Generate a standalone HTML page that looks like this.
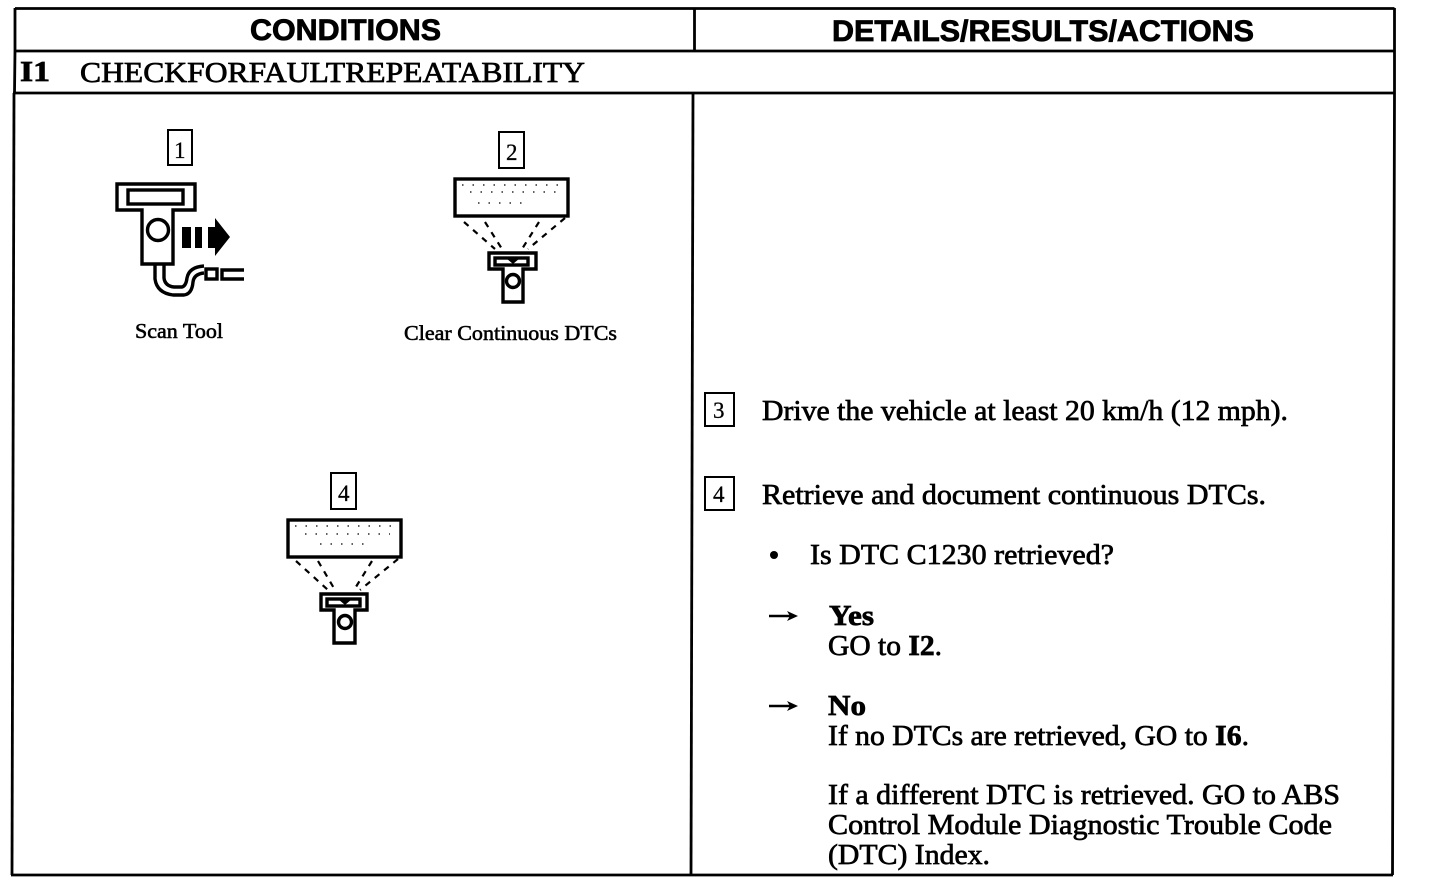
<!DOCTYPE html>
<html>
<head>
<meta charset="utf-8">
<style>
html,body{margin:0;padding:0;background:#fff;}
svg{display:block;}
text{font-family:"Liberation Serif",serif;fill:#000;stroke:#000;stroke-width:.7px;}
.h{font-family:"Liberation Sans",sans-serif;font-weight:700;font-size:30px;stroke-width:.8px;}
.b{font-size:29px;}
.bb{font-size:29px;font-weight:700;}
.c{font-size:21px;stroke-width:.55px;}
.n{font-size:23px;stroke-width:.3px;}
</style>
</head>
<body>
<svg width="1440" height="884" viewBox="0 0 1440 884" xmlns="http://www.w3.org/2000/svg">
<rect width="1440" height="884" fill="#fff"/>
<g fill="none" stroke="#000" stroke-width="2.800">
  <path d="M15 8.500H1394.500"/>
  <path d="M15 51H1394"/>
  <path d="M13 93H1394"/>
  <path d="M11 875H1393"/>
  <path d="M15 8V51L14.500 93"/>
  <path d="M14 93L12 875"/>
  <path d="M694.500 8V51"/>
  <path d="M693 93L691 875"/>
  <path d="M1394.500 8V93L1392.500 875"/>
</g>

<text class="h" x="250" y="40" textLength="191" lengthAdjust="spacingAndGlyphs">CONDITIONS</text>
<text class="h" x="832" y="41" textLength="422" lengthAdjust="spacingAndGlyphs">DETAILS/RESULTS/ACTIONS</text>
<text class="bb" x="20" y="81" textLength="30" lengthAdjust="spacingAndGlyphs">I1</text>
<text class="b" x="80" y="82" textLength="505" lengthAdjust="spacingAndGlyphs">CHECKFORFAULTREPEATABILITY</text>

<!-- number boxes -->
<g fill="#fff" stroke="#000" stroke-width="2">
  <rect x="168" y="130" width="24" height="35"/>
  <rect x="499" y="132" width="25" height="36"/>
  <rect x="331" y="473" width="25" height="36"/>
  <rect x="705" y="393" width="29" height="33"/>
  <rect x="705" y="477" width="29" height="33"/>
</g>
<text class="n" x="174" y="158">1</text>
<text class="n" x="506" y="160">2</text>
<text class="n" x="338" y="501">4</text>
<text class="n" x="713" y="418">3</text>
<text class="n" x="713" y="502">4</text>

<!-- Scan tool -->
<g fill="none" stroke="#000" stroke-width="3.400">
  <path d="M117 184H195V210H173V264H142V210H117Z"/>
  <rect x="128" y="190" width="55" height="14"/>
  <circle cx="158" cy="230" r="10.500"/>
  <path d="M155 265V279Q157 293 173 295H184Q192 294 193 282Q194 274 204 273"/>
  <path d="M164 265V278Q165 286 174 287H182Q186 286 187 278Q189 267 204 266"/>
  <rect x="206" y="269" width="11" height="10"/>
  <path d="M244 270H222V279H244"/>
</g>
<g fill="#000">
  <rect x="182" y="227" width="9" height="21"/>
  <rect x="195" y="227" width="7" height="21"/>
  <path d="M208 227H215V218L230 237L215 256V248H208Z"/>
</g>

<!-- Display 2 -->
<g fill="none" stroke="#000" stroke-width="3.400">
  <rect x="455" y="179" width="113" height="37"/>
  <path d="M489 253H536V269H523V302H503V269H489Z"/>
  <rect x="495" y="258" width="33" height="7"/>
  <circle cx="513" cy="281" r="6.500"/>
</g>
<g fill="none" stroke="#000" stroke-width="2.200" stroke-dasharray="6 6">
  <path d="M464 222L495 249"/>
  <path d="M485 222L502 249"/>
  <path d="M539 222L522 249"/>
  <path d="M565 218L528 249"/>
</g>
<path d="M506 258H520L513 264Z" fill="#000"/>
<g fill="none" stroke="#000" stroke-width="1.300" stroke-dasharray="1.500 9">
  <path d="M462 185H565"/>
  <path d="M470 192H560"/>
  <path d="M478 203H530"/>
</g>

<!-- Display 4 -->
<g fill="none" stroke="#000" stroke-width="3.400">
  <rect x="288" y="520" width="113" height="37"/>
  <path d="M321 594H367V610H355V643H334V610H321Z"/>
  <rect x="327" y="599" width="33" height="7"/>
  <circle cx="345" cy="622" r="6.500"/>
</g>
<g fill="none" stroke="#000" stroke-width="2.200" stroke-dasharray="6 6">
  <path d="M296 561L328 590"/>
  <path d="M318 561L335 590"/>
  <path d="M372 561L354 590"/>
  <path d="M398 559L360 590"/>
</g>
<path d="M338 599H352L345 605Z" fill="#000"/>
<g fill="none" stroke="#000" stroke-width="1.300" stroke-dasharray="1.500 9">
  <path d="M295 526H395"/>
  <path d="M305 534H390"/>
  <path d="M320 544H370"/>
</g>

<text class="c" x="135" y="338" textLength="88" lengthAdjust="spacingAndGlyphs">Scan Tool</text>
<text class="c" x="404" y="340" textLength="213" lengthAdjust="spacingAndGlyphs">Clear Continuous DTCs</text>

<!-- Right column -->
<text class="b" x="762" y="420" textLength="526" lengthAdjust="spacingAndGlyphs">Drive the vehicle at least 20 km/h (12 mph).</text>
<text class="b" x="762" y="504" textLength="504" lengthAdjust="spacingAndGlyphs">Retrieve and document continuous DTCs.</text>
<circle cx="774" cy="555" r="4" fill="#000"/>
<text class="b" x="810" y="564" textLength="304" lengthAdjust="spacingAndGlyphs">Is DTC C1230 retrieved?</text>

<g fill="none" stroke="#000" stroke-width="2.400">
  <path d="M769 616H794"/>
  <path d="M769 706H794"/>
</g>
<path d="M787 611L798 616L787 621L790 616Z" fill="#000"/>
<path d="M787 701L798 706L787 711L790 706Z" fill="#000"/>

<text class="bb" x="829" y="625" textLength="45" lengthAdjust="spacingAndGlyphs">Yes</text>
<text class="b" x="828" y="655" textLength="114" lengthAdjust="spacingAndGlyphs">GO to <tspan font-weight="700">I2</tspan>.</text>
<text class="bb" x="828" y="715" textLength="38" lengthAdjust="spacingAndGlyphs">No</text>
<text class="b" x="828" y="745" textLength="421" lengthAdjust="spacingAndGlyphs">If no DTCs are retrieved, GO to <tspan font-weight="700">I6</tspan>.</text>
<text class="b" x="828" y="804" textLength="512" lengthAdjust="spacingAndGlyphs">If a different DTC is retrieved. GO to ABS</text>
<text class="b" x="828" y="834" textLength="504" lengthAdjust="spacingAndGlyphs">Control Module Diagnostic Trouble Code</text>
<text class="b" x="828" y="864" textLength="162" lengthAdjust="spacingAndGlyphs">(DTC) Index.</text>
</svg>
</body>
</html>
